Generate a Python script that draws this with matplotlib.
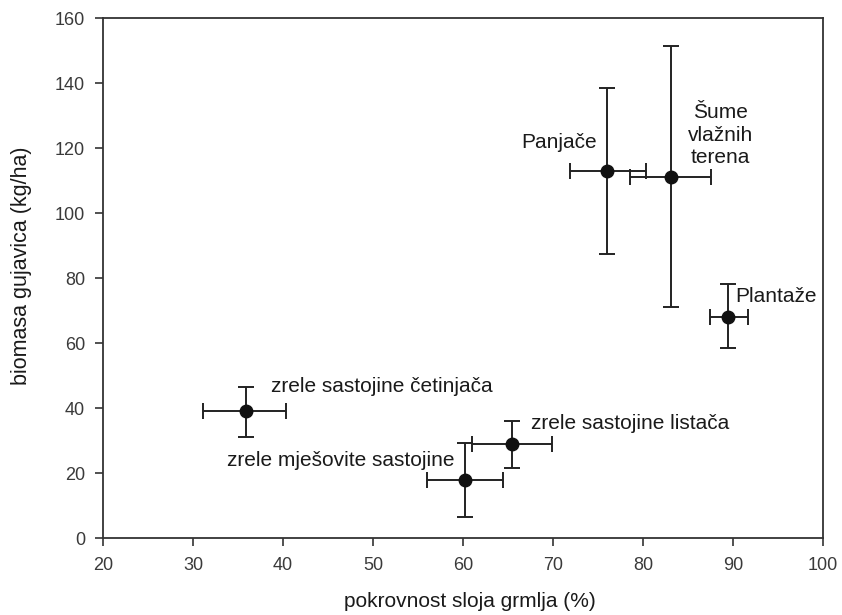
import matplotlib
matplotlib.use("Agg")
import matplotlib.pyplot as plt

plt.rcParams['font.family'] = ['Liberation Sans', 'DejaVu Sans']

names = ["Panjače", "Šume\nvlažnih\nterena", "Plantaže",
         "zrele sastojine četinjača", "zrele sastojine listača", "zrele mješovite sastojine"]
x_vals = [76.0, 83.1, 89.5, 35.9, 65.4, 60.2]
y_vals = [113.1, 111.0, 68.2, 39.3, 29.0, 18.0]
x_lo = [71.9, 78.6, 87.4, 31.1, 61.0, 56.0]
x_hi = [80.3, 87.6, 91.7, 40.3, 69.9, 64.5]
y_lo = [87.5, 71.1, 58.5, 31.3, 21.6, 6.7]
y_hi = [138.4, 151.4, 78.1, 46.7, 36.2, 29.4]

x_ticks = [20, 30, 40, 50, 60, 70, 80, 90, 100]
y_ticks = [0, 20, 40, 60, 80, 100, 120, 140, 160]

fig = plt.figure(figsize=(8.42, 6.15), dpi=100)
ax = fig.add_axes([0.1223, 0.1244, 0.8551, 0.8463])

xerr = [[x - lo for x, lo in zip(x_vals, x_lo)], [hi - x for x, hi in zip(x_vals, x_hi)]]
yerr = [[y - lo for y, lo in zip(y_vals, y_lo)], [hi - y for y, hi in zip(y_vals, y_hi)]]
ax.errorbar(x_vals, y_vals, xerr=xerr, yerr=yerr, fmt='o', color='#111111',
            ms=9, elinewidth=1.4, capsize=6, capthick=1.4, ecolor='#222222')

fs = 15
tc = '#1a1a1a'
ax.text(74.9, 121.6, names[0], ha='right', va='center', fontsize=fs, color=tc)
ax.text(88.6, 124.0, names[1], ha='center', va='center', fontsize=fs, color=tc,
        linespacing=1.22)
ax.text(90.3, 74.3, names[2], ha='left', va='center', fontsize=fs, color=tc)
ax.text(38.7, 46.7, names[3], ha='left', va='center', fontsize=fs, color=tc)
ax.text(67.6, 35.5, names[4], ha='left', va='center', fontsize=fs, color=tc)
ax.text(59.1, 24.1, names[5], ha='right', va='center', fontsize=fs, color=tc)

ax.set_xlim(20, 100)
ax.set_ylim(0, 160)
ax.set_xticks(x_ticks)
ax.set_yticks(y_ticks)
ax.tick_params(direction='out', length=6, width=1.2, labelsize=13,
               labelcolor='#3a3a3a', color='#333333')
ax.tick_params(axis='x', pad=7)
ax.tick_params(axis='y', pad=7)
for s in ax.spines.values():
    s.set_linewidth(1.3)
    s.set_color('#333333')

ax.set_xlabel("pokrovnost sloja grmlja (%)", fontsize=15, color=tc)
ax.set_ylabel("biomasa gujavica (kg/ha)", fontsize=15.5, color=tc)
ax.xaxis.set_label_coords(0.51, -0.1214)
ax.yaxis.set_label_coords(-0.1125, 0.5235)
ax.xaxis.label.set_verticalalignment('center')
ax.yaxis.label.set_verticalalignment('center')

fig.savefig("out.png", dpi=100)
